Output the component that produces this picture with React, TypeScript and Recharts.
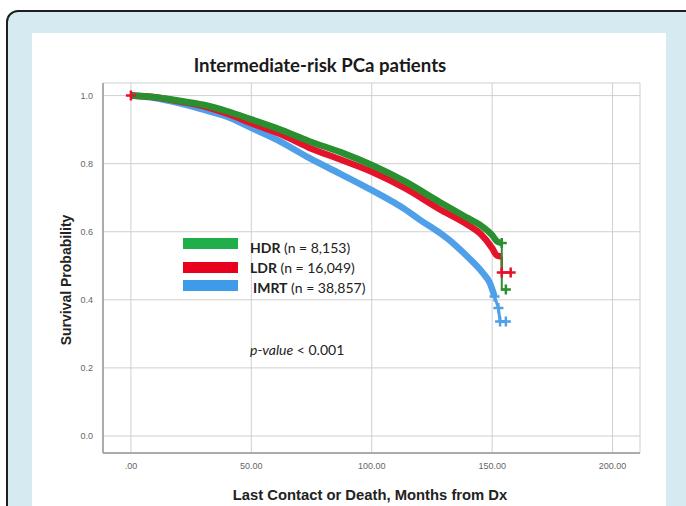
import React from "react"
import { ComposedChart, Line, Scatter, XAxis, YAxis, CartesianGrid } from "recharts"

// Kaplan-Meier estimates (months, survival)
const hdrCurve = [
  { t: 0, s: 1.0 }, { t: 10, s: 0.995 }, { t: 20, s: 0.985 }, { t: 30, s: 0.973 },
  { t: 40, s: 0.954 }, { t: 50, s: 0.93 }, { t: 62, s: 0.9 }, { t: 74, s: 0.866 },
  { t: 87, s: 0.834 }, { t: 100, s: 0.796 }, { t: 114, s: 0.747 }, { t: 128, s: 0.688 },
  { t: 140, s: 0.64 }, { t: 145, s: 0.62 }, { t: 150, s: 0.59 }, { t: 152, s: 0.572 },
  { t: 154, s: 0.567 },
]
const hdrTail = [{ t: 154, s: 0.567 }, { t: 154, s: 0.43 }, { t: 156, s: 0.43 }]

const ldrCurve = [
  { t: 0, s: 1.0 }, { t: 10, s: 0.995 }, { t: 20, s: 0.983 }, { t: 30, s: 0.969 },
  { t: 40, s: 0.947 }, { t: 50, s: 0.919 }, { t: 62, s: 0.887 }, { t: 74, s: 0.847 },
  { t: 87, s: 0.812 }, { t: 100, s: 0.776 }, { t: 114, s: 0.727 }, { t: 128, s: 0.667 },
  { t: 140, s: 0.62 }, { t: 145, s: 0.595 }, { t: 150, s: 0.552 }, { t: 152, s: 0.53 },
  { t: 154, s: 0.527 },
]
const ldrTail = [{ t: 154, s: 0.527 }, { t: 154, s: 0.48 }, { t: 158, s: 0.48 }]

const imrtCurve = [
  { t: 0, s: 1.0 }, { t: 10, s: 0.993 }, { t: 20, s: 0.978 }, { t: 29, s: 0.961 },
  { t: 40, s: 0.938 }, { t: 50, s: 0.905 }, { t: 62, s: 0.865 }, { t: 74, s: 0.817 },
  { t: 87, s: 0.77 }, { t: 100, s: 0.722 }, { t: 114, s: 0.665 }, { t: 120, s: 0.635 },
  { t: 128, s: 0.598 }, { t: 134, s: 0.565 }, { t: 140, s: 0.525 }, { t: 146, s: 0.48 },
  { t: 149, s: 0.45 }, { t: 151, s: 0.41 },
]
const imrtTail = [
  { t: 151, s: 0.41 }, { t: 152.6, s: 0.376 }, { t: 153.3, s: 0.336 }, { t: 155.7, s: 0.336 },
]

// censored observations shown as "+"
const hdrCensored = [{ t: 154, s: 0.567 }, { t: 155.7, s: 0.43 }]
const ldrCensored = [{ t: 0, s: 1.0 }, { t: 154, s: 0.48 }, { t: 157.7, s: 0.48 }]
const imrtCensored = [
  { t: 151, s: 0.41 }, { t: 152.6, s: 0.376 }, { t: 153.3, s: 0.336 }, { t: 155.7, s: 0.336 },
]

const xTicks = [0, 50, 100, 150, 200]
const yTicks = [0, 0.2, 0.4, 0.6, 0.8, 1.0]

const legendItems = [
  { name: "HDR", n: "8,153", color: "#1fae4a" },
  { name: "LDR", n: "16,049", color: "#e8001c" },
  { name: "IMRT", n: "38,857", color: "#3d9be9" },
]

const GREEN = "#2a8f2e"
const RED = "#e3132b"
const BLUE = "#4f9fe9"

function Plus(props: any) {
  const { cx, cy, fill } = props
  if (cx == null || cy == null) return null
  return (
    <path
      d={`M${cx - 5},${cy}H${cx + 5}M${cx},${cy - 5}V${cy + 5}`}
      stroke={fill}
      strokeWidth={2.5}
    />
  )
}

export default function App() {
  return (
    <div style={{ position: "absolute", left: 0, top: 0, width: 686, height: 506, overflow: "hidden", background: "#fff" }}>
      <div
        style={{
          position: "absolute", left: 6, top: 10, width: 700, height: 520,
          border: "2px solid #1e1e1e", borderRadius: 12, background: "#d6ebf1", boxSizing: "border-box",
        }}
      />
      <div style={{ position: "absolute", left: 32, top: 33, width: 634, height: 480, background: "#fff" }} />

      <div
        style={{
          position: "absolute", left: 320, top: 65, transform: "translate(-50%, -50%)",
          fontFamily: "Lato", fontWeight: 700, fontSize: 18.6, color: "#1a1a1a", whiteSpace: "nowrap",
        }}
      >
        Intermediate-risk PCa patients
      </div>

      <ComposedChart
        width={686}
        height={506}
        margin={{ top: 83, right: 46, bottom: 23, left: 53 }}
        style={{ position: "absolute", left: 0, top: 0 }}
      >
        <CartesianGrid stroke="#cfcfcf" />
        <XAxis
          type="number"
          dataKey="t"
          domain={[-11.6, 211.4]}
          ticks={xTicks}
          allowDuplicatedCategory
          tickFormatter={(v: number) => (v === 0 ? ".00" : v.toFixed(2))}
          tick={{ fill: "#666", fontSize: 9, fontFamily: "Liberation Sans" }}
          tickLine={false}
          tickSize={0}
          tickMargin={10}
          axisLine={{ stroke: "#999", strokeWidth: 1.5 }}
          height={30}
        />
        <YAxis
          type="number"
          dataKey="s"
          domain={[-0.05, 1.037]}
          ticks={yTicks}
          tickFormatter={(v: number) => v.toFixed(1)}
          tick={{ fill: "#666", fontSize: 9, fontFamily: "Liberation Sans" }}
          tickLine={false}
          tickSize={0}
          tickMargin={10}
          axisLine={{ stroke: "#999", strokeWidth: 1.5 }}
          width={50}
        />
        <Line data={imrtCurve} dataKey="s" type="monotone" stroke={BLUE} strokeWidth={6.5} dot={false} isAnimationActive={false} />
        <Line data={imrtTail} dataKey="s" stroke={BLUE} strokeWidth={3} dot={false} isAnimationActive={false} />
        <Line data={ldrCurve} dataKey="s" type="monotone" stroke={RED} strokeWidth={6.5} dot={false} isAnimationActive={false} />
        <Line data={ldrTail} dataKey="s" stroke={RED} strokeWidth={2.5} dot={false} isAnimationActive={false} />
        <Line data={hdrCurve} dataKey="s" type="monotone" stroke={GREEN} strokeWidth={6.5} dot={false} isAnimationActive={false} />
        <Line data={hdrTail} dataKey="s" stroke={GREEN} strokeWidth={2} dot={false} isAnimationActive={false} />
        <Scatter data={imrtCensored} dataKey="s" fill={BLUE} shape={<Plus />} isAnimationActive={false} />
        <Scatter data={ldrCensored} dataKey="s" fill={RED} shape={<Plus />} isAnimationActive={false} />
        <Scatter data={hdrCensored} dataKey="s" fill={GREEN} shape={<Plus />} isAnimationActive={false} />
      </ComposedChart>

      <div
        style={{
          position: "absolute", left: 66, top: 280, transform: "translate(-50%, -50%) rotate(-90deg)",
          fontFamily: "Liberation Sans", fontWeight: 700, fontSize: 14, color: "#222", whiteSpace: "nowrap",
        }}
      >
        Survival Probability
      </div>
      <div
        style={{
          position: "absolute", left: 370, top: 495, transform: "translate(-50%, -50%)",
          fontFamily: "Liberation Sans", fontWeight: 700, fontSize: 14.8, color: "#222", whiteSpace: "nowrap",
        }}
      >
        Last Contact or Death, Months from Dx
      </div>

      {legendItems.map((item, i) => (
        <div key={item.name}>
          <div
            style={{
              position: "absolute", left: 183, top: [238, 262, 280][i], width: 55, height: 11, background: item.color,
            }}
          />
          <div
            style={{
              position: "absolute", left: i === 2 ? 253 : 250, top: [247, 267, 287][i], transform: "translateY(-50%)",
              fontFamily: "Lato", fontSize: 14, color: "#222", whiteSpace: "nowrap",
            }}
          >
            <b>{item.name}</b> (n = {item.n})
          </div>
        </div>
      ))}

      <div
        style={{
          position: "absolute", left: 250, top: 349, transform: "translateY(-50%)",
          fontFamily: "Lato", fontSize: 14, color: "#222", whiteSpace: "nowrap",
        }}
      >
        <i>p-value</i> &lt; 0.001
      </div>
    </div>
  )
}
